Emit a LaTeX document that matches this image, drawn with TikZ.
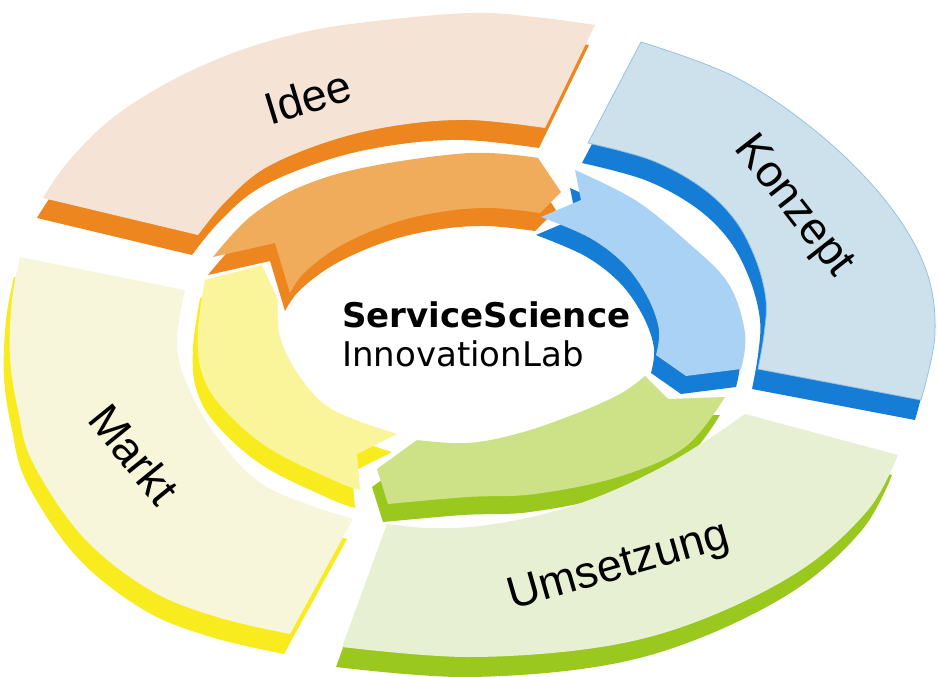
\documentclass[tikz,border=0pt]{standalone}
\usepackage{fontspec}
\setmainfont{Liberation Sans}
\newfontfamily\verd{DejaVu Sans}
\definecolor{ideeTop}{RGB}{245,228,214}
\definecolor{orSide}{RGB}{237,134,30}
\definecolor{orTop}{RGB}{240,172,90}
\definecolor{konTop}{RGB}{205,225,236}
\definecolor{konEdge}{RGB}{150,195,225}
\definecolor{blSide}{RGB}{22,125,215}
\definecolor{blTop}{RGB}{170,210,245}
\definecolor{umsTop}{RGB}{232,240,212}
\definecolor{grSide}{RGB}{155,200,30}
\definecolor{grTop}{RGB}{205,225,135}
\definecolor{marTop}{RGB}{248,246,218}
\definecolor{yeSide}{RGB}{248,235,30}
\definecolor{yeTop}{RGB}{250,245,155}
\tikzset{
  outside/.style={shift={(-6,20)}},
  inside/.style={shift={(-5,18)}},
  lbl/.style={inner sep=0pt, text=black, font=\fontsize{45}{50}\selectfont},
  sm/.style={smooth, tension=0.6}
}
\begin{document}
\begin{tikzpicture}[x=1pt,y=-1pt]
\useasboundingbox (0,0) rectangle (938,677);
\fill[white] (0,0) rectangle (938,677);
% shapes
\def\ideeO{(43,198) -- plot[sm] coordinates {(43,198) (67,163) (110,120) (167,83) (233,53) (300,33) (367,22) (470,13) (535,17) (595,25)} -- (545,128) -- plot[sm] coordinates {(545,128) (470,120) (400,125) (333,140) (267,167) (227,200) (198,235)} -- cycle}
\def\ideeI{(290,293) -- (275,243) -- (213,257) -- plot[sm] coordinates {(213,257) (250,217) (300,187) (367,167) (470,153) (538,158)} -- (561,192) -- (540,213) -- plot[sm] coordinates {(540,213) (490,208) (440,212) (390,224) (340,246) (305,272) (290,293)} -- cycle}
\def\konO{(641,42) -- plot[sm] coordinates {(641,42) (735,77) (818,133) (885,200) (925,267) (935,333) (921,400)} -- (758,369) -- plot[sm] coordinates {(758,369) (764,335) (766,300) (756,260) (735,220) (701,187) (651,160) (588,143)} -- cycle}
\def\konI{(541,217) -- (581,200) -- (575,170) -- plot[sm] coordinates {(575,170) (635,200) (685,240) (728,283) (745,333) (741,369)} -- (686,376) -- (656,355) -- plot[sm] coordinates {(656,355) (659,330) (648,298) (625,265) (590,238) (541,217)} -- cycle}
\def\marO{(20,257) -- plot[sm] coordinates {(20,257) (12,300) (10,357) (18,410) (33,463) (83,537) (150,590) (217,617) (290,634)} -- (353,519) -- plot[sm] coordinates {(353,519) (267,487) (217,437) (186,382) (177,340) (185,290)} -- cycle}
\def\marI{(205,280) -- (262,265) -- (278,300) -- plot[sm] coordinates {(278,300) (280,337) (300,377) (333,410) (397,434)} -- (357,454) -- (360,490) -- plot[sm] coordinates {(360,490) (333,480) (267,447) (220,405) (201,370) (198,330) (205,280)} -- cycle}
\def\umsI{(377,469) -- (417,440) -- plot[sm] coordinates {(417,440) (468,443) (520,433) (575,414) (620,394) (645,376)} -- (668,399) -- (725,397) -- plot[sm] coordinates {(725,397) (685,447) (618,477) (535,494) (468,497) (388,504)} -- cycle}
\def\umsO{(387,524) -- plot[sm] coordinates {(387,524) (430,528) (480,526) (540,515) (600,496) (660,468) (710,438) (745,414)} -- (898,455) -- plot[sm] coordinates {(898,455) (868,510) (801,570) (701,620) (601,647) (468,657) (342,647)} -- cycle}
% Idee
\fill[orSide, outside] \ideeO;
\fill[ideeTop] \ideeO;
\fill[orSide, inside] \ideeI;
\fill[orTop] \ideeI;
% Konzept
\fill[blSide, outside] \konO;
\fill[konTop, draw=konEdge, line width=0.8pt] \konO;
\fill[blSide, inside] \konI;
\fill[blTop] \konI;
% Markt
\fill[yeSide, outside] \marO;
\fill[marTop] \marO;
\fill[yeSide, inside] \marI;
\fill[yeTop] \marI;
% Umsetzung
\fill[grSide, inside] \umsI;
\fill[grTop] \umsI;
\fill[grSide, outside] \umsO;
\fill[umsTop] \umsO;
% labels
\node[lbl, rotate=17] (idee) at (308,97) {Idee};
\node[lbl, rotate=-52] (konzept) at (793,207) {Konzept};
\node[lbl, rotate=-51] (markt) at (134,454) {Markt};
\node[lbl, rotate=16] (umsetzung) at (619,568) {Umsetzung};
\node[anchor=base west, inner sep=0pt, font=\verd\bfseries\fontsize{34}{40}\selectfont] (ss) at (342,327) {ServiceScience};
\node[anchor=base west, inner sep=0pt, font=\verd\fontsize{34}{38}\selectfont] (il) at (342,366) {InnovationLab};
\end{tikzpicture}
\end{document}
